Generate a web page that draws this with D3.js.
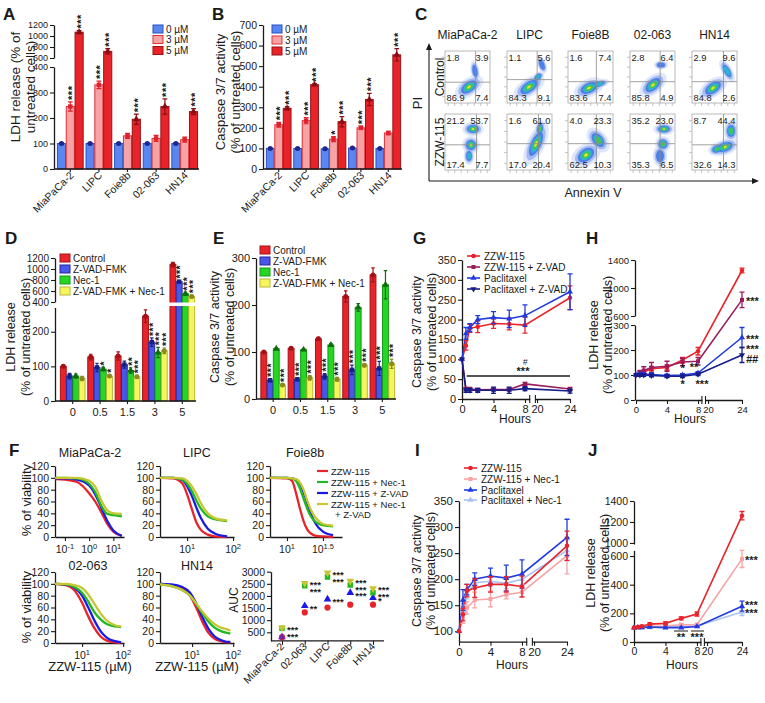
<!DOCTYPE html>
<html><head><meta charset="utf-8">
<script src="https://cdn.jsdelivr.net/npm/d3@7"></script>
<style>body{margin:0;background:#fff}svg{font-family:"Liberation Sans",Arial,Helvetica,sans-serif}</style>
</head><body>
<svg id="chart" width="765" height="703"></svg>
<script>
// ================= DATA =================
// Panel A (LDH release) & B (caspase 3/7)
const cellLinesAB = ["MiaPaCa-2","LIPC","Foie8b","02-063","HN14"];
const doseLabels = ["0 \u00b5M","3 \u00b5M","5 \u00b5M"];
const ldh0 = [100,100,100,100,100];
const ldh3 = [245,330,130,120,115];
const ldh5 = [1070,720,195,245,225];
const ldh0Err = [3,3,3,3,4];
const ldh3Err = [18,15,10,12,10];
const ldh5Err = [30,50,20,30,12];
const ldhStars = [[null,null,null,null,null],["***","***",null,null,null],["***","***","***","***","***"]];
const casp0 = [100,100,98,102,100];
const casp3 = [215,235,145,200,175];
const casp5 = [295,410,230,338,555];
const casp0Err = [3,3,3,3,3];
const casp3Err = [12,15,12,8,8];
const casp5Err = [8,5,25,30,30];
const caspStars = [[null,null,null,null,null],["***","***","*","***",null],["***","***","***","***","***"]];

// Panel C (flow cytometry quadrants: UL, UR, LL, LR)
const flowCells = ["MiaPaCa-2","LIPC","Foie8B","02-063","HN14"];
const flowRows = ["Control","ZZW-115"];
const quadControl = [[1.8,3.9,86.9,7.4],[1.1,5.6,84.3,9.1],[1.6,7.4,83.6,7.4],[2.8,6.4,85.8,4.9],[2.9,9.6,84.8,2.6]];
const quadZZW = [[21.2,53.7,17.4,7.7],[1.6,61.0,17.0,20.4],[4.0,23.3,62.5,10.3],[35.2,23.0,35.3,6.5],[8.7,44.4,32.6,14.3]];
const gatesControl = [[0.68,0.6],[0.67,0.55],[0.63,0.59],[0.67,0.59],[0.7,0.59]];
const gatesZZW = [[0.7,0.55],[0.7,0.53],[0.63,0.53],[0.67,0.53],[0.7,0.55]];
// density clusters [cx, cy, rx, ry, angle, strength]
const blobsControl = [
  [[24,36,9,5,-35,1],[30,20,2.5,6,-10,0.3]],
  [[22,36,10,5,-35,1],[35,14,2.5,5,-20,0.35],[31,26,4,2.5,-40,0.4]],
  [[21,37,9,5,-25,1],[31,33,6,2.5,-15,0.45]],
  [[23,34,9,5,-40,1],[31,14,4,2.5,0,0.35]],
  [[21,37,9,5,-35,1],[35,20,3,7,-30,0.4]]];
const blobsZZW = [
  [[28,15,6,4,0,0.95],[26,31,5,5,-20,0.9],[24,42,3,5,0,0.4]],
  [[29,30,5,13,25,1],[33,15,3,5,10,0.6]],
  [[18,41,9,6,-35,1],[30,26,5,8,-40,0.6]],
  [[34,15,6,3.5,0,0.9],[33,30,4.5,4.5,-30,0.85],[30,42,4,6,0,0.3]],
  [[33,33,8,4.5,-20,1],[39,17,4,6,0,0.65],[25,35,5,3.5,-20,0.7]]];

// Panel D (LDH) & E (caspase) with inhibitors
const doseCats = ["0","0.5","1.5","3","5"];
const inhibLabels = ["Control","Z-VAD-FMK","Nec-1","Z-VAD-FMK + Nec-1"];
const dCtrl = [100,127,130,245,1080];
const dZvad = [72,97,105,170,770];
const dNec = [72,92,88,140,550];
const dBoth = [65,72,70,145,500];
const dCtrlErr = [4,8,12,18,40];
const dZvadErr = [8,12,10,12,20];
const dNecErr = [6,5,8,15,25];
const dBothErr = [6,4,4,8,25];
const dStars = [[null,null,null,null,null],[null,null,null,"***","***"],[null,"*","**","***","***"],[null,"*","***","***","***"]];
const eCtrl = [100,108,128,218,264];
const eZvad = [40,42,48,62,65];
const eNec = [107,105,115,195,243];
const eBoth = [30,45,42,72,75];
const eCtrlErr = [2,2,3,12,15];
const eZvadErr = [3,3,6,10,15];
const eNecErr = [2,2,3,8,30];
const eBothErr = [2,5,4,3,10];
const eStars = [[null,null,null,null,null],["***","***","***","***","***"],[null,null,null,null,null],["***","***","***","***","***"]];

// Panels G-J time courses
const hours = [0,0.5,1,2,4,6,8,24];
const gLabels = ["ZZW-115","ZZW-115 + Z-VAD","Paclitaxel","Paclitaxel + Z-VAD"];
const gZZW = [100,135,178,182,190,189,186,255];
const gZZWErr = [0,12,10,15,12,15,20,30];
const gZZWZvad = [100,25,25,23,24,24,38,25];
const gZZWZvadErr = [0,4,4,4,4,4,4,4];
const gPac = [100,165,180,200,205,202,210,270];
const gPacErr = [0,15,10,10,15,22,27,45];
const gPacZvad = [100,22,22,22,22,22,26,20];
const gPacZvadErr = [0,5,5,5,8,8,5,5];
const hZZW = [100,108,112,125,130,160,195,1250];
const hZZWErr = [0,5,5,8,10,10,15,35];
const hZZWZvad = [100,110,118,130,135,152,155,830];
const hZZWZvadErr = [0,8,15,20,20,15,15,110];
const hPac = [100,103,103,102,98,100,108,250];
const hPacErr = [0,5,5,5,5,5,5,40];
const hPacZvad = [100,100,100,98,95,95,103,180];
const hPacZvadErr = [0,5,5,5,5,5,5,30];
const iLabels = ["ZZW-115","ZZW-115 + Nec-1","Paclitaxel","Paclitaxel + Nec-1"];
const iZZW = [100,132,178,183,190,190,186,264];
const iZZWErr = [0,12,12,18,15,15,20,28];
const iZZWNec = [100,125,145,160,162,170,175,245];
const iZZWNecErr = [0,10,12,15,15,8,10,35];
const iPac = [100,160,180,200,206,202,210,280];
const iPacErr = [0,20,10,12,15,25,27,35];
const iPacNec = [100,140,170,193,196,192,200,255];
const iPacNecErr = [0,10,8,10,10,10,10,20];
const jZZW = [100,105,110,125,130,165,195,1260];
const jZZWErr = [0,5,5,8,10,10,15,40];
const jZZWNec = [100,100,105,110,112,120,120,580];
const jZZWNecErr = [0,5,5,5,8,10,10,60];
const jPac = [100,102,102,105,100,100,108,250];
const jPacErr = [0,3,3,5,5,5,5,35];
const jPacNec = [100,100,100,102,103,108,112,210];
const jPacNecErr = [0,3,3,3,3,5,5,25];

// Panel F dose-response (x = log10 concentration, y = % viability)
const fLabels = ["ZZW-115","ZZW-115 + Nec-1","ZZW-115 + Z-VAD","ZZW-115 + Nec-1","+ Z-VAD"];
const miaX = [-1.4,-1.0,-0.5,0,0.25,0.5,0.75,1.0,1.35];
const miaRed = [98,97,93,74,60,42,22,9,2];
const miaGreen = [100,100,99,90,76,53,39,37,35];
const miaBlue = [99,99,97,87,72,50,27,11,2];
const miaYellow = [100,100,100,95,85,62,45,40,39];
const lipcX = [0.41,0.7,0.9,1.0,1.1,1.2,1.3,1.45,1.6,1.87];
const lipcRed = [100,99,90,72,48,25,12,4,1,0];
const lipcGreen = [100,100,97,90,78,62,48,35,30,27];
const lipcBlue = [100,100,96,86,70,50,32,14,6,1];
const lipcYellow = [100,100,99,95,86,73,57,40,32,28];
const foieX = [0.76,1.0,1.07,1.13,1.18,1.23,1.28,1.33,1.4,1.5,1.64];
const foieRed = [100,99,95,72,48,27,13,6,2,1,0];
const foieGreen = [100,100,99,94,82,65,48,35,25,20,18];
const foieBlue = [100,100,99,97,90,76,58,40,22,9,3];
const foieYellow = [100,100,99,98,92,80,62,46,32,22,19];
const o63X = [0.34,0.6,0.8,1.0,1.15,1.3,1.45,1.6,1.8,1.95];
const o63Red = [100,98,90,68,45,25,11,4,1,0];
const o63Green = [100,99,95,85,70,52,40,32,28,27];
const o63Blue = [100,99,94,80,60,38,20,9,3,1];
const o63Yellow = [100,100,98,93,82,66,50,38,30,28];
const hn14X = [0.22,0.5,0.75,0.95,1.1,1.25,1.4,1.55,1.7,1.85,1.93];
const hn14Red = [100,98,93,80,60,36,17,7,3,1,1];
const hn14Green = [99,96,90,80,66,50,36,26,20,17,16];
const hn14Blue = [100,99,95,85,67,44,24,11,5,2,2];
const hn14Yellow = [99,96,90,80,67,53,41,32,26,23,21];
const aucCats = ["MiaPaCa-2","02-063","LIPC","Foie8b","HN14"];
const aucZZW = [300,1320,1520,1640,1640];
const aucZVAD = [310,1590,1860,2130,1930];
const aucNec = [665,2420,2780,2450,2135];
const aucBoth = [690,2520,2960,2615,2310];
const aucStars = [["***","***",null],["***","***","**"],["***","***","***"],["***","***","***"],["***","***","*"]];

// ================= DRAWING =================
const svg = d3.select("#chart");
const INK = "#1a1a1a";
const fmt = d3.format("d");
const C = {red:"#e8242a", pink:"#f6a3a5", blueBar:"#5a86f2", zvad:"#4a55ea", nec:"#25d625", yel:"#f6f65c",
  maroon:"#9c1b5b", blue:"#1f3be0", navy:"#161d8a", lblue:"#a9c3f2",
  fRed:"#e8242a", fGreen:"#22b822", fBlue:"#1a1ae6", fYel:"#c6c632"};

function txt(s,x,y,fs,anchor,weight){
  return svg.append("text").attr("x",x).attr("y",y).attr("font-size",fs).attr("text-anchor",anchor||"start")
    .attr("font-weight",weight||"normal").attr("fill",INK).text(s);
}
function stackTxt(lines,x,y,fs,gap,weight){
  const t = svg.append("text").attr("x",x).attr("y",y).attr("font-size",fs).attr("font-weight",weight||"bold").attr("fill",INK);
  lines.forEach((l,i)=>t.append("tspan").attr("x",x).attr("dy",i===0?0:gap).attr("font-style",l.startsWith("#")?"italic":"normal").text(l));
  return t;
}
function rtxt(s,x,y,fs,anchor){
  return svg.append("text").attr("transform",`translate(${x},${y}) rotate(-90)`).attr("font-size",fs)
    .attr("text-anchor",anchor||"middle").attr("fill",INK).text(s);
}
function letter(s,x,y){ txt(s,x,y,17,"start","bold"); }
function brokenScale(segs){
  const sc = segs.map(s=>d3.scaleLinear().domain(s.domain).range(s.range));
  const f = v=>{
    if (v <= segs[0].domain[1] || segs.length===1) return sc[0](v);
    for (let i=1;i<segs.length;i++){
      if (v < segs[i].domain[0]) return d3.scaleLinear().domain([segs[i-1].domain[1],segs[i].domain[0]]).range([segs[i-1].range[1],segs[i].range[0]])(v);
      if (v <= segs[i].domain[1] || i===segs.length-1) return sc[i](v);
    }
  };
  f.sc = sc; f.segs = segs; return f;
}
function styleAxis(a,fs){
  a.selectAll("text").attr("font-size",fs).attr("font-family","Liberation Sans, Arial, sans-serif").attr("fill",INK);
  a.selectAll("line").attr("stroke",INK).attr("stroke-width",1.1);
  a.select(".domain").attr("stroke",INK).attr("stroke-width",1.3);
}
function drawYAxis(bs,x,fs){
  bs.segs.forEach((s,i)=>{
    const a = svg.append("g").attr("transform",`translate(${x},0)`)
      .call(d3.axisLeft(bs.sc[i]).tickValues(s.ticks).tickFormat(fmt).tickSize(4).tickSizeOuter(0).tickPadding(2));
    styleAxis(a,fs);
  });
}
const symTypes = {circle:d3.symbolCircle, square:d3.symbolSquare, tri:d3.symbolTriangle, triDown:d3.symbolTriangle};
function marker(x,y,type,size,fill,stroke){
  svg.append("path").attr("d",d3.symbol().type(symTypes[type]).size(size)())
    .attr("transform",`translate(${x},${y})${type==="triDown"?" rotate(180)":""}`)
    .attr("fill",fill).attr("stroke",stroke||"none").attr("stroke-width",1);
}
function errBar(x,yt,yb,cap,color,w){
  svg.append("path").attr("d",`M${x},${yt}V${yb}M${x-cap},${yt}H${x+cap}M${x-cap},${yb}H${x+cap}`)
    .attr("stroke",color).attr("stroke-width",w||1.2).attr("fill","none");
}
function vStars(s,cx,y,fs){
  svg.append("text").attr("transform",`translate(${cx+fs*0.5},${y}) rotate(-90)`).attr("font-size",fs)
    .attr("font-weight","bold").attr("letter-spacing",0.5).attr("fill",INK).text(s);
}
function legendRects(labels,fills,strokes,x,ys,fs){
  labels.forEach((l,i)=>{
    svg.append("rect").attr("x",x).attr("y",ys[i]-4).attr("width",10).attr("height",8).attr("fill",fills[i]).attr("stroke",strokes[i]).attr("stroke-width",1);
    txt(l,x+13,ys[i]+3.5,fs);
  });
}
function legendLines(labels,colors,marks,x,ys,fs){
  labels.forEach((l,i)=>{
    svg.append("line").attr("x1",x).attr("x2",x+13).attr("y1",ys[i]).attr("y2",ys[i]).attr("stroke",colors[i]).attr("stroke-width",1.6);
    marker(x+6.5,ys[i],marks[i],16,colors[i]);
    txt(l,x+17,ys[i]+3.5,fs);
  });
}

function barPanel(o){
  const y = brokenScale(o.ySegs);
  const x0 = d3.scaleBand().domain(o.cats).range(o.xRange).paddingInner(0.1).paddingOuter(0.05);
  const x1 = d3.scaleBand().domain(d3.range(o.series.length)).range([0,x0.bandwidth()]).paddingInner(o.pad1);
  const y0 = y(0), bw = x1.bandwidth();
  o.series.forEach((vals,si)=>vals.forEach((v,ci)=>{
    const bx = x0(o.cats[ci])+x1(si);
    svg.append("rect").attr("x",bx).attr("y",y(v)).attr("width",bw).attr("height",y0-y(v))
      .attr("fill",o.fills[si]).attr("stroke",o.strokes[si]).attr("stroke-width",1);
  }));
  if (o.gap) svg.append("rect").attr("x",o.axisX+1).attr("y",o.gap[0]).attr("width",o.xRange[1]-o.axisX).attr("height",o.gap[1]-o.gap[0]).attr("fill","#fff");
  o.series.forEach((vals,si)=>vals.forEach((v,ci)=>{
    const cx = x0(o.cats[ci])+x1(si)+bw/2, e=o.errs[si][ci];
    errBar(cx,y(v+e),y(v-e),bw*0.3,o.mcols[si],1.2);
    marker(cx,y(v),o.marks[si],20,o.mcols[si]);
    const st = o.stars[si][ci];
    if (st) vStars(st,cx,y(v+e)-2,o.starFs);
  }));
  drawYAxis(y,o.axisX,o.tickFs);
  const ax = svg.append("g").attr("transform",`translate(0,${y0})`)
    .call(d3.axisBottom(x0).tickSize(3).tickSizeOuter(0).tickFormat(""));
  styleAxis(ax,10);
  ax.select(".domain").attr("d",`M${o.axisX},0H${o.xRange[1]}`);
  if (o.rotLabels){
    o.cats.forEach(c=>svg.append("text").attr("transform",`translate(${x0(c)+x0.bandwidth()/2+4},${y0+7}) rotate(-45)`)
      .attr("text-anchor","end").attr("font-size",10.5).attr("fill",INK).text(c));
  } else {
    o.cats.forEach(c=>txt(c,x0(c)+x0.bandwidth()/2,y0+15,11,"middle"));
  }
}

// ---- Panel A
letter("A",3,20);
barPanel({cats:cellLinesAB, series:[ldh0,ldh3,ldh5], errs:[ldh0Err,ldh3Err,ldh5Err], stars:ldhStars,
  fills:[C.blueBar,C.pink,C.red], strokes:["#2a4fc0","#e03036","#9a1015"], mcols:["#1c2790","#e0202a","#8a0c10"],
  marks:["circle","square","tri"], xRange:[56,199], axisX:54, pad1:0.08, tickFs:9, starFs:11, rotLabels:true,
  ySegs:[{domain:[0,400],range:[169,67],ticks:[0,100,200,300,400]},{domain:[600,1200],range:[58,25],ticks:[600,800,1000,1200]}]});
legendRects(doseLabels,[C.blueBar,C.pink,C.red],["#2a4fc0","#e03036","#9a1015"],153,[29,39.5,50.5],10);
rtxt("LDH release (% of",20,87,13.5); rtxt("untreated cells)",35,87,13.5);

// ---- Panel B
letter("B",212,20);
barPanel({cats:cellLinesAB, series:[casp0,casp3,casp5], errs:[casp0Err,casp3Err,casp5Err], stars:caspStars,
  fills:[C.blueBar,C.pink,C.red], strokes:["#2a4fc0","#e03036","#9a1015"], mcols:["#1c2790","#e0202a","#8a0c10"],
  marks:["circle","square","tri"], xRange:[265,402], axisX:263, pad1:0.08, tickFs:10.5, starFs:11, rotLabels:true,
  ySegs:[{domain:[0,700],range:[169,25],ticks:[0,100,200,300,400,500,600,700]}]});
legendRects(doseLabels,[C.blueBar,C.pink,C.red],["#2a4fc0","#e03036","#9a1015"],272,[29,40,51],10);
rtxt("Caspase 3/7 activity",225,92,13); rtxt("(% of untreated cells)",240,92,13);

// ---- Panel C
letter("C",415,20);
const cBoxX = [445,507,568,630,692], cBoxW = 45, cRowY = [51,114], cRowH = [52,56];
const blobLayers = [{k:1.8,c:"#dbe4fa",o:0.9},{k:1.35,c:"#9db5f0",o:0.9},{k:1.0,c:"#4a7ae6",o:0.95},{k:0.72,c:"#2ab8cc",o:0.95},{k:0.48,c:"#42c842",o:0.95},{k:0.24,c:"#e8e22a",o:1}];
flowCells.forEach((name,ci)=>{
  txt(name,cBoxX[ci]+cBoxW/2,39,12,"middle");
  [0,1].forEach(ri=>{
    const bx=cBoxX[ci], by=cRowY[ri], bh=cRowH[ri];
    const g = svg.append("g").attr("transform",`translate(${bx},${by})`);
    const cid = `clip${ci}_${ri}`;
    g.append("clipPath").attr("id",cid).append("rect").attr("width",cBoxW).attr("height",bh);
    g.append("rect").attr("width",cBoxW).attr("height",bh).attr("fill","#fff");
    const inner = g.append("g").attr("clip-path",`url(#${cid})`);
    const blobs = ri===0?blobsControl[ci]:blobsZZW[ci];
    blobLayers.forEach((L,li)=>{
      blobs.forEach(b=>{
        const maxL = b[5]>=0.9?6:b[5]>=0.6?5:b[5]>=0.4?4:3;
        if (li>=maxL) return;
        inner.append("ellipse").attr("cx",b[0]).attr("cy",b[1]).attr("rx",b[2]*L.k).attr("ry",b[3]*L.k)
          .attr("transform",`rotate(${b[4]},${b[0]},${b[1]})`).attr("fill",L.c).attr("opacity",L.o);
      });
    });
    const gt = ri===0?gatesControl[ci]:gatesZZW[ci];
    g.append("line").attr("x1",gt[0]*cBoxW).attr("x2",gt[0]*cBoxW).attr("y1",0).attr("y2",bh).attr("stroke","#8a8a8a").attr("stroke-width",0.8);
    g.append("line").attr("x1",0).attr("x2",cBoxW).attr("y1",gt[1]*bh).attr("y2",gt[1]*bh).attr("stroke","#8a8a8a").attr("stroke-width",0.8);
    g.append("rect").attr("width",cBoxW).attr("height",bh).attr("fill","none").attr("stroke","#a8a8a8").attr("stroke-width",0.8);
    d3.range(5).forEach(k=>g.append("line").attr("x1",-3).attr("x2",0).attr("y1",bh*(0.12+0.19*k)).attr("y2",bh*(0.12+0.19*k)).attr("stroke","#aaa").attr("stroke-width",0.7));
    d3.range(7).forEach(k=>g.append("line").attr("x1",cBoxW*(0.07+0.145*k)).attr("x2",cBoxW*(0.07+0.145*k)).attr("y1",bh).attr("y2",bh+3).attr("stroke","#aaa").attr("stroke-width",0.7));
    const q = ri===0?quadControl[ci]:quadZZW[ci];
    const f = v=>v.toFixed(1);
    txt(f(q[0]),bx+1.5,by+9.5,9.3); txt(f(q[1]),bx+cBoxW-1.5,by+9.5,9.3,"end");
    txt(f(q[2]),bx+1.5,by+bh-2.5,9.3); txt(f(q[3]),bx+cBoxW-1.5,by+bh-2.5,9.3,"end");
  });
});
rtxt("Control",444,77,12); rtxt("ZZW-115",444,142,12);
svg.append("path").attr("d","M429,181V47M429,181H755").attr("stroke",INK).attr("stroke-width",1.1).attr("fill","none");
svg.append("path").attr("d","M426,50L429,43L432,50ZM752,178L759,181L752,184Z").attr("fill",INK);
rtxt("PI",422,103,13); txt("Annexin V",593,197,12.5,"middle");

// ---- Panel D
letter("D",5,244);
barPanel({cats:doseCats, series:[dCtrl,dZvad,dNec,dBoth], errs:[dCtrlErr,dZvadErr,dNecErr,dBothErr], stars:dStars,
  fills:[C.red,C.zvad,C.nec,C.yel], strokes:["#a01418","#2228a0","#169a16","#b8b83a"], mcols:["#a51015","#16208a","#0f6a10","#8a8a20"],
  marks:["circle","square","tri","circle"], xRange:[59,196], axisX:55, pad1:0.06, tickFs:10, starFs:10.5, rotLabels:false,
  gap:[302.5,306],
  ySegs:[{domain:[0,270],range:[401,307.5],ticks:[0,100,200]},{domain:[400,1200],range:[302,258],ticks:[400,600,800,1000,1200]}]});
legendRects(inhibLabels,[C.red,C.zvad,C.nec,C.yel],["#a01418","#2228a0","#169a16","#b8b83a"],60,[258,269,280,291],10);
rtxt("LDH release",15,337,12.5); rtxt("(% of untreated cells)",30,337,12.5);

// ---- Panel E
letter("E",213,244);
barPanel({cats:doseCats, series:[eCtrl,eZvad,eNec,eBoth], errs:[eCtrlErr,eZvadErr,eNecErr,eBothErr], stars:eStars,
  fills:[C.red,C.zvad,C.nec,C.yel], strokes:["#a01418","#2228a0","#169a16","#b8b83a"], mcols:["#a51015","#16208a","#0f6a10","#8a8a20"],
  marks:["circle","square","tri","circle"], xRange:[259.5,396], axisX:256, pad1:0.06, tickFs:11, starFs:10.5, rotLabels:false,
  ySegs:[{domain:[0,300],range:[399,258],ticks:[0,100,200,300]}]});
legendRects(inhibLabels,[C.red,C.zvad,C.nec,C.yel],["#a01418","#2228a0","#169a16","#b8b83a"],260,[250,261,272,283],10);
rtxt("Caspase 3/7 activity",219,327,12.5); rtxt("(% of untreated cells)",234,327,12.5);

// ---- line panels
function linePanel(o){
  const y = brokenScale(o.ySegs), x = brokenScale(o.xSegs);
  const yb = o.xAxisY;
  o.xSegs.forEach((s,i)=>{
    const a = svg.append("g").attr("transform",`translate(0,${yb})`)
      .call(d3.axisBottom(x.sc[i]).tickValues(s.ticks).tickFormat(fmt).tickSize(4).tickSizeOuter(0).tickPadding(2));
    styleAxis(a,o.tickFs);
  });
  const xe = o.xSegs[0].range[1], xs = o.xSegs[1].range[0];
  svg.append("path").attr("d",`M${xe},${yb-4}V${yb+4}M${xs},${yb-4}V${yb+4}`).attr("stroke",INK).attr("stroke-width",1.1);
  drawYAxis(y,o.axisX,o.tickFs);
  o.series.forEach(s=>{
    const line = d3.line().x((d,i)=>x(hours[i])).y(d=>y(d));
    svg.append("path").attr("d",line(s.vals)).attr("fill","none").attr("stroke",s.color).attr("stroke-width",1.6);
  });
  o.series.forEach(s=>{
    s.vals.forEach((v,i)=>{
      if (s.errs[i]>0) errBar(x(hours[i]),y(v+s.errs[i]),y(v-s.errs[i]),2.5,s.color,1.3);
      marker(x(hours[i]),y(v),s.mark,16,s.color);
    });
  });
  txt("Hours",o.hoursX,o.hoursY,12,"middle");
  return {x,y};
}

// ---- Panel G
letter("G",413,244);
const G = linePanel({axisX:462, xAxisY:399, tickFs:11,
  ySegs:[{domain:[0,350],range:[399,260],ticks:[0,50,100,150,200,250,300,350]}],
  xSegs:[{domain:[0,8.6],range:[462,529.7],ticks:[0,4,8]},{domain:[19.8,24],range:[535.4,570],ticks:[20,24]}],
  series:[{vals:gZZW,errs:gZZWErr,color:C.red,mark:"circle"},{vals:gZZWZvad,errs:gZZWZvadErr,color:C.maroon,mark:"square"},
          {vals:gPac,errs:gPacErr,color:C.blue,mark:"tri"},{vals:gPacZvad,errs:gPacZvadErr,color:C.navy,mark:"triDown"}],
  hoursX:515, hoursY:423});
svg.append("line").attr("x1",G.x(0.6)).attr("x2",570).attr("y1",G.y(58)).attr("y2",G.y(58)).attr("stroke",INK).attr("stroke-width",1.4);
const gs = svg.append("text").attr("x",524).attr("y",365).attr("text-anchor","middle").attr("fill",INK);
gs.append("tspan").attr("x",525).attr("font-size",8.5).attr("font-style","italic").text("#");
gs.append("tspan").attr("x",523).attr("dy",10).attr("font-size",11).attr("font-weight","bold").text("***");
legendLines(gLabels,[C.red,C.maroon,C.blue,C.navy],["circle","square","tri","triDown"],467,[256,267,278,289],10);
rtxt("Caspase 3/7 activity",421,332,12.5); rtxt("(% of untreated cells)",436,332,12.5);

// ---- Panel H
letter("H",586,244);
const H = linePanel({axisX:635, xAxisY:400, tickFs:9.5,
  ySegs:[{domain:[0,300],range:[400,325],ticks:[0,100,200,300]},{domain:[600,1400],range:[316,260],ticks:[600,1000,1400]}],
  xSegs:[{domain:[0,8.5],range:[636,701.9],ticks:[0,4,8]},{domain:[19.7,24],range:[705.5,742],ticks:[20,24]}],
  series:[{vals:hZZW,errs:hZZWErr,color:C.red,mark:"circle"},{vals:hZZWZvad,errs:hZZWZvadErr,color:C.maroon,mark:"square"},
          {vals:hPac,errs:hPacErr,color:C.blue,mark:"tri"},{vals:hPacZvad,errs:hPacZvadErr,color:C.navy,mark:"triDown"}],
  hoursX:690, hoursY:423});
txt("***",746,H.y(830)+5,11,"start","bold");
stackTxt(["***","***","##"],746,H.y(250)+5,11,10);
txt("*",H.x(6),372,11,"middle","bold"); txt("**",H.x(8)-4,371,11,"middle","bold");
txt("*",H.x(6),388,11,"middle","bold"); txt("***",H.x(8)+4,388,11,"middle","bold");
rtxt("LDH release",598,335,12.5); rtxt("(% of untreated cells)",612,335,12.5);

// ---- Panel I
letter("I",415,456);
linePanel({axisX:459, xAxisY:641.7, tickFs:11.5,
  ySegs:[{domain:[80,350],range:[641.7,501],ticks:[100,150,200,250,300,350]}],
  xSegs:[{domain:[0,8.6],range:[459,526.7],ticks:[0,4,8]},{domain:[19.8,24],range:[532.4,567],ticks:[20,24]}],
  series:[{vals:iPacNec,errs:iPacNecErr,color:C.lblue,mark:"tri"},{vals:iZZWNec,errs:iZZWNecErr,color:C.pink,mark:"square"},
          {vals:iPac,errs:iPacErr,color:C.blue,mark:"tri"},{vals:iZZW,errs:iZZWErr,color:C.red,mark:"circle"}],
  hoursX:512, hoursY:669});
legendLines(iLabels,[C.red,C.pink,C.blue,C.lblue],["circle","square","tri","tri"],464,[468,479,490,500],10);
rtxt("Caspase 3/7 activity",421,571,12.5); rtxt("(% of untreated cells)",435,571,12.5);

// ---- Panel J
letter("J",588,456);
const J = linePanel({axisX:634, xAxisY:642, tickFs:10.5,
  ySegs:[{domain:[0,640],range:[642,550.3],ticks:[0,200,400,600]},{domain:[990,1400],range:[544,501],ticks:[1000,1200,1400]}],
  xSegs:[{domain:[0,8.5],range:[634,700.9],ticks:[0,4,8]},{domain:[19.7,24],range:[704.4,742],ticks:[20,24]}],
  series:[{vals:jPacNec,errs:jPacNecErr,color:C.lblue,mark:"tri"},{vals:jZZWNec,errs:jZZWNecErr,color:C.pink,mark:"square"},
          {vals:jPac,errs:jPacErr,color:C.blue,mark:"tri"},{vals:jZZW,errs:jZZWErr,color:C.red,mark:"circle"}],
  hoursX:682, hoursY:669});
txt("***",745,J.y(580)+5,11,"start","bold");
stackTxt(["***","***"],745,J.y(250)+3,11,7.5);
svg.append("path").attr("d","M674,631H688M691,631H704").attr("stroke",INK).attr("stroke-width",1.2);
txt("**",681,641,11,"middle","bold"); txt("***",697,641,11,"middle","bold");
rtxt("LDH release",595,573,12.5); rtxt("(% of untreated cells)",609,573,12.5);

// ---- Panel F
letter("F",9,456);
const fColors = [C.fRed,C.fGreen,C.fBlue,C.fYel];
function curvePanel(o){
  const x = d3.scaleLinear().domain(o.logDomain).range(o.xRange);
  const y = d3.scaleLinear().domain([0,120]).range(o.yRange);
  const ay = svg.append("g").attr("transform",`translate(${o.xRange[0]},0)`)
    .call(d3.axisLeft(y).tickValues([0,20,40,60,80,100,120]).tickFormat(fmt).tickSize(4).tickSizeOuter(0).tickPadding(2));
  styleAxis(ay,10.5);
  const ax = svg.append("g").attr("transform",`translate(0,${o.yRange[0]})`)
    .call(d3.axisBottom(x).tickValues(o.xTicks).tickSize(4).tickSizeOuter(0).tickFormat(""));
  styleAxis(ax,10);
  o.xTicks.forEach((t,i)=>{
    const tt = svg.append("text").attr("x",x(t)).attr("y",o.yRange[0]+16).attr("text-anchor","middle").attr("font-size",10.5).attr("fill",INK);
    tt.append("tspan").text("10"); tt.append("tspan").attr("dy",-4).attr("font-size",7.5).text(o.exps[i]);
  });
  const line = d3.line().curve(d3.curveMonotoneX).x((d,i)=>x(o.xs[i])).y(d=>y(d));
  [0,2,1,3].forEach(k=>svg.append("path").attr("d",line(o.curves[k])).attr("fill","none").attr("stroke",fColors[k]).attr("stroke-width",2.3));
  txt(o.title,o.titleX,o.titleY,12.5,"middle");
}
curvePanel({xs:miaX,curves:[miaRed,miaGreen,miaBlue,miaYellow],logDomain:[-1.41,1.44],xRange:[55,124],yRange:[537,466],
  xTicks:[-1,0,1],exps:["-1","0","1"],title:"MiaPaCa-2",titleX:90,titleY:457});
curvePanel({xs:lipcX,curves:[lipcRed,lipcGreen,lipcBlue,lipcYellow],logDomain:[0.41,2.02],xRange:[160,234],yRange:[537,466],
  xTicks:[1,2],exps:["1","2"],title:"LIPC",titleX:197,titleY:457});
curvePanel({xs:foieX,curves:[foieRed,foieGreen,foieBlue,foieYellow],logDomain:[0.764,1.764],xRange:[270,342],yRange:[537,466],
  xTicks:[1,1.5],exps:["1","1.5"],title:"Foie8b",titleX:305,titleY:457});
curvePanel({xs:o63X,curves:[o63Red,o63Green,o63Blue,o63Yellow],logDomain:[0.34,2.02],xRange:[55,124],yRange:[643,572],
  xTicks:[1,2],exps:["1","2"],title:"02-063",titleX:88,titleY:570});
curvePanel({xs:hn14X,curves:[hn14Red,hn14Green,hn14Blue,hn14Yellow],logDomain:[0.22,2.02],xRange:[160,234],yRange:[643,572],
  xTicks:[1,2],exps:["1","2"],title:"HN14",titleX:197,titleY:570});
rtxt("% of viability",31,500,13); rtxt("% of viability",31,607,13);
txt("ZZW-115 (\u00b5M)",90,671,13,"middle"); txt("ZZW-115 (\u00b5M)",197,671,13,"middle");
[0,1,2,3].forEach(i=>{
  const yy = [471,482,493,504][i];
  svg.append("line").attr("x1",317).attr("x2",328).attr("y1",yy).attr("y2",yy).attr("stroke",fColors[i]).attr("stroke-width",2.2);
});
stackTxt(fLabels.slice(0,4),331,474.5,9.5,11,"normal");
txt(fLabels[4],335,518,9.5);

// AUC panel
{
  const y = d3.scaleLinear().domain([150,3000]).range([640.8,571.7]);
  const x = d3.scalePoint().domain(aucCats).range([282,373]);
  const ay = svg.append("g").attr("transform","translate(271,0)")
    .call(d3.axisLeft(y).tickValues([500,1000,1500,2000,2500,3000]).tickFormat(fmt).tickSize(4).tickSizeOuter(0).tickPadding(2));
  styleAxis(ay,10.5);
  const ax = svg.append("g").attr("transform","translate(0,640.8)")
    .call(d3.axisBottom(x).tickSize(4).tickSizeOuter(0).tickFormat(""));
  styleAxis(ax,10);
  ax.select(".domain").attr("d","M271,0H384");
  aucCats.forEach(c=>svg.append("text").attr("transform",`translate(${x(c)+3},${647}) rotate(-45)`)
    .attr("text-anchor","end").attr("font-size",10.5).attr("fill",INK).text(c));
  aucCats.forEach((c,i)=>{
    marker(x(c),y(aucZZW[i]),"circle",30,C.fRed);
    marker(x(c),y(aucZVAD[i]),"tri",26,i===0?"#7a22b0":C.fBlue);
    marker(x(c),y(aucNec[i]),"square",30,C.fGreen);
    marker(x(c),y(aucBoth[i]),"triDown",26,C.fYel);
  });
  aucCats.forEach((c,i)=>{
    const st = aucStars[i];
    stackTxt([st[0],st[1]],x(c)+5,y(aucBoth[i])+5,9.5,Math.max(7,y(aucNec[i])-y(aucBoth[i])+2));
    if (st[2]) txt(st[2],x(c)+5,y(aucZVAD[i])+6,9.5,"start","bold");
  });
  rtxt("AUC",238,600,12);
}
</script>
</body></html>
